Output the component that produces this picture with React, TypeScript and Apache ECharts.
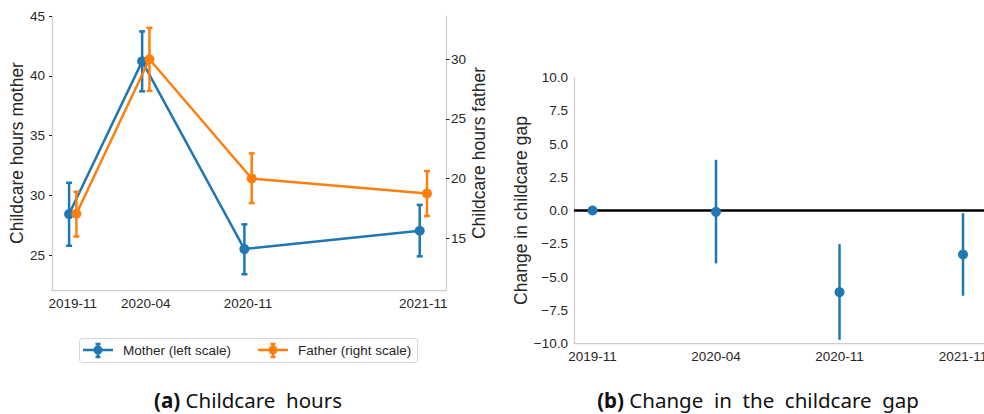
import React, { useEffect, useRef } from "react";
import * as echarts from "echarts";

const waves = ["2019-11", "2020-04", "2020-11", "2021-11"];
const waveMonths = [0, 5, 12, 24];
const motherHours = [28.43, 41.22, 25.5, 27.03];
const motherLow = [25.78, 38.71, 23.39, 24.89];
const motherHigh = [31.05, 43.73, 27.57, 29.2];
const fatherHours = [17.04, 30.0, 20.0, 18.74];
const fatherLow = [15.13, 27.35, 17.93, 16.85];
const fatherHigh = [18.88, 32.64, 22.1, 20.62];
const gapChange = [0, -0.1, -6.14, -3.31];
const gapLow = [0, -3.98, -9.72, -6.41];
const gapHigh = [0, 3.81, -2.53, -0.2];
const motherTicks = [25, 30, 35, 40, 45];
const fatherTicks = [15, 20, 25, 30];
const waveIndex = [0, 1, 2, 3];

const BLUE = "#1f77b4";
const ORANGE = "#ff7f0e";
const INK = "#262626";
const SPINE = "#cccccc";
const FONT = "'Liberation Sans', Arial, sans-serif";
const CAPFONT = "'Noto Sans', 'Open Sans', sans-serif";
const DODGE = 0.25;

function errRender(color: string, cap: number) {
  return (params: any, api: any) => {
    const x = api.value(0);
    const lo = api.coord([x, api.value(1)]);
    const hi = api.coord([x, api.value(2)]);
    const children: any[] = [];
    if (Math.abs(lo[1] - hi[1]) < 0.5) return { type: "group", children };
    const st = { stroke: color, lineWidth: 2.5 };
    children.push({ type: "line", shape: { x1: lo[0], y1: lo[1], x2: hi[0], y2: hi[1] }, style: st });
    if (cap > 0) {
      children.push({ type: "line", shape: { x1: lo[0] - cap, y1: lo[1], x2: lo[0] + cap, y2: lo[1] }, style: st });
      children.push({ type: "line", shape: { x1: hi[0] - cap, y1: hi[1], x2: hi[0] + cap, y2: hi[1] }, style: st });
    }
    return { type: "group", children };
  };
}

function legendGlyph(cx: number, cy: number, color: string) {
  const st = { stroke: color, lineWidth: 2.5 };
  return [
    { type: "line", shape: { x1: cx - 15, y1: cy, x2: cx + 15, y2: cy }, style: st },
    { type: "line", shape: { x1: cx, y1: cy - 6, x2: cx, y2: cy + 7 }, style: st },
    { type: "line", shape: { x1: cx - 2.5, y1: cy - 6, x2: cx + 2.5, y2: cy - 6 }, style: st },
    { type: "line", shape: { x1: cx - 2.5, y1: cy + 7, x2: cx + 2.5, y2: cy + 7 }, style: st },
    { type: "circle", shape: { cx, cy, r: 4.5 }, style: { fill: color } },
  ];
}

export default function App() {
  const ref = useRef<HTMLDivElement>(null);
  useEffect(() => {
    if (!ref.current) return;
    const chart = echarts.init(ref.current, null, { renderer: "svg" });
    const axisLabelBase = { color: INK, fontSize: 13.5, fontFamily: FONT };
    const spine = { show: true, onZero: false, lineStyle: { color: SPINE, width: 1.25 } };
    const option: any = {
      animation: false,
      backgroundColor: "#ffffff",
      textStyle: { fontFamily: FONT },
      grid: [
        { left: 52, top: 16, width: 394, height: 274, outerBoundsMode: "none", containLabel: false },
        { left: 574, top: 77.5, right: 0, height: 266, outerBoundsMode: "none", containLabel: false },
      ],
      xAxis: [
        {
          type: "value", gridIndex: 0, min: -1.42, max: 25.55,
          axisLine: spine,
          axisTick: { show: false },
          splitLine: { show: false },
          axisLabel: {
            ...axisLabelBase, margin: 6,
            customValues: waveMonths,
            formatter: (v: number) => waves[waveMonths.indexOf(v)] ?? "",
          },
        },
        {
          type: "value", gridIndex: 1, min: -0.15, max: 3.17,
          axisLine: spine,
          axisTick: { show: false },
          splitLine: { show: false },
          axisLabel: {
            ...axisLabelBase, margin: 6,
            customValues: waveIndex,
            formatter: (v: number) => waves[v] ?? "",
          },
        },
      ],
      yAxis: [
        {
          type: "value", gridIndex: 0, position: "left", min: 22.07, max: 45.02,
          name: "Childcare hours mother", nameLocation: "middle", nameRotate: 90, nameGap: 25,
          nameTextStyle: { color: INK, fontSize: 17.5, fontFamily: FONT },
          axisLine: spine,
          axisTick: { show: true, length: 3, customValues: motherTicks, lineStyle: { color: INK, width: 1 } },
          splitLine: { show: false },
          axisLabel: { ...axisLabelBase, margin: 7, customValues: motherTicks },
        },
        {
          type: "value", gridIndex: 0, position: "right", min: 10.64, max: 33.63,
          alignTicks: false,
          name: "Childcare hours father", nameLocation: "middle", nameRotate: 90, nameGap: 20,
          nameTextStyle: { color: INK, fontSize: 17.5, fontFamily: FONT },
          axisLine: spine,
          axisTick: { show: true, length: 3.5, customValues: fatherTicks, lineStyle: { color: INK, width: 1 } },
          splitLine: { show: false },
          axisLabel: { ...axisLabelBase, margin: 5, customValues: fatherTicks },
        },
        {
          type: "value", gridIndex: 1, min: -10, max: 10, interval: 2.5,
          name: "Change in childcare gap", nameLocation: "middle", nameRotate: 90, nameGap: 44,
          nameTextStyle: { color: INK, fontSize: 17.5, fontFamily: FONT },
          axisLine: spine,
          axisTick: { show: false },
          splitLine: { show: false },
          axisLabel: {
            ...axisLabelBase, margin: 6,
            formatter: (v: number) => v.toFixed(1).replace("-", "\u2212"),
          },
        },
      ],
      series: [
        {
          type: "custom", xAxisIndex: 0, yAxisIndex: 0, silent: true,
          renderItem: errRender(BLUE, 3), encode: { x: 0, y: [1, 2] },
          data: waveMonths.map((m, i) => [m - DODGE, motherLow[i], motherHigh[i]]),
          z: 2,
        },
        {
          type: "line", xAxisIndex: 0, yAxisIndex: 0, name: "Mother (left scale)",
          data: waveMonths.map((m, i) => [m - DODGE, motherHours[i]]),
          symbol: "circle", symbolSize: 10, showSymbol: true,
          lineStyle: { color: BLUE, width: 2.5 }, itemStyle: { color: BLUE },
          z: 3,
        },
        {
          type: "custom", xAxisIndex: 0, yAxisIndex: 1, silent: true,
          renderItem: errRender(ORANGE, 3), encode: { x: 0, y: [1, 2] },
          data: waveMonths.map((m, i) => [m + DODGE, fatherLow[i], fatherHigh[i]]),
          z: 4,
        },
        {
          type: "line", xAxisIndex: 0, yAxisIndex: 1, name: "Father (right scale)",
          data: waveMonths.map((m, i) => [m + DODGE, fatherHours[i]]),
          symbol: "circle", symbolSize: 10, showSymbol: true,
          lineStyle: { color: ORANGE, width: 2.5 }, itemStyle: { color: ORANGE },
          z: 5,
        },
        {
          type: "custom", xAxisIndex: 1, yAxisIndex: 2, silent: true,
          renderItem: errRender(BLUE, 0), encode: { x: 0, y: [1, 2] },
          data: waveIndex.map((k, i) => [k, gapLow[i], gapHigh[i]]),
          z: 2,
        },
        {
          type: "scatter", xAxisIndex: 1, yAxisIndex: 2,
          data: waveIndex.map((k, i) => [k, gapChange[i]]),
          symbol: "circle", symbolSize: 10, itemStyle: { color: BLUE, opacity: 1 },
          z: 5,
          markLine: {
            silent: true, symbol: "none", label: { show: false },
            lineStyle: { color: "#000000", width: 2.5, type: "solid" },
            data: [{ yAxis: 0 }],
            z: 3,
          },
        },
      ],
      graphic: [
        {
          type: "rect", shape: { x: 79.5, y: 338.5, width: 338, height: 24, r: 3 },
          style: { fill: "#ffffff", stroke: "#d6d6d6", lineWidth: 1 },
        },
        ...legendGlyph(98, 350, BLUE),
        {
          type: "text", x: 123, y: 350,
          style: { text: "Mother (left scale)", fill: INK, font: `13.5px ${FONT}`, verticalAlign: "middle" },
        },
        ...legendGlyph(273, 350, ORANGE),
        {
          type: "text", x: 298, y: 350,
          style: { text: "Father (right scale)", fill: INK, font: `13.5px ${FONT}`, verticalAlign: "middle" },
        },
        {
          type: "text", x: 248, y: 400,
          style: {
            text: "{b|(a)} Childcare  hours", fill: "#111111", font: `20.5px ${CAPFONT}`,
            align: "center", verticalAlign: "middle",
            rich: { b: { fontWeight: "bold", fontSize: 20.5, fontFamily: CAPFONT, fill: "#111111" } },
          },
        },
        {
          type: "text", x: 758, y: 400,
          style: {
            text: "{b|(b)} Change  in  the  childcare  gap", fill: "#111111", font: `20.5px ${CAPFONT}`,
            align: "center", verticalAlign: "middle",
            rich: { b: { fontWeight: "bold", fontSize: 20.5, fontFamily: CAPFONT, fill: "#111111" } },
          },
        },
      ],
    };
    chart.setOption(option);
    return () => chart.dispose();
  }, []);
  return (
    <div
      ref={ref}
      style={{ position: "fixed", left: 0, top: 0, width: 984, height: 414, overflow: "hidden", background: "#fff" }}
    />
  );
}
